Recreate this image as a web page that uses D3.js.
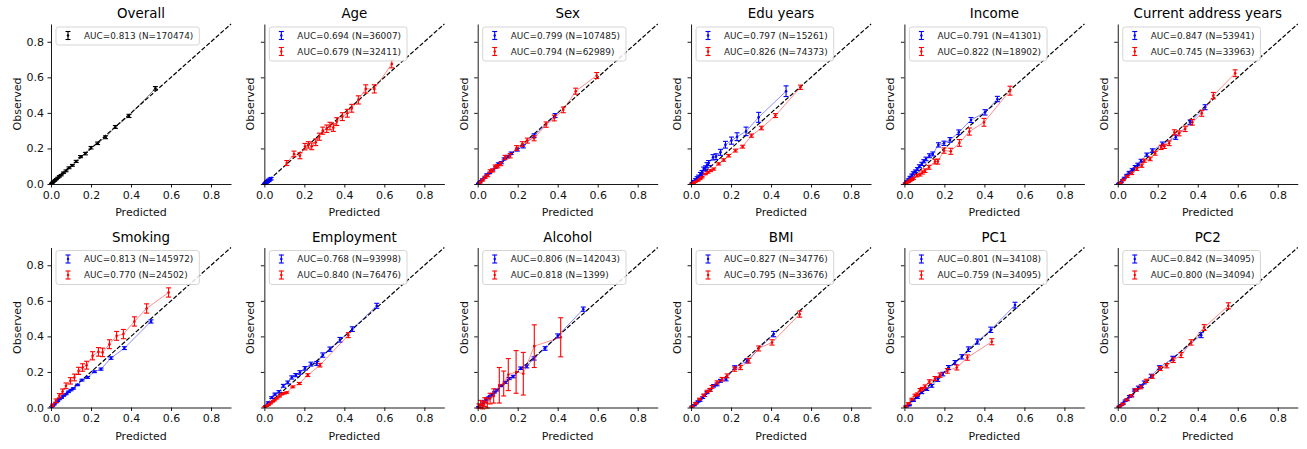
<!DOCTYPE html>
<html><head><meta charset="utf-8">
<script src="https://cdn.jsdelivr.net/npm/d3@7"></script>
<style>
body{margin:0;background:#fff;}
svg{display:block;font-family:"DejaVu Sans",sans-serif;}
</style></head><body>
<svg id="chart" width="1307" height="449"></svg>
<script>
// ---------- data ----------
const titles = ["Overall","Age","Sex","Edu years","Income","Current address years","Smoking","Employment","Alcohol","BMI","PC1","PC2"];
const ticks = [0.0, 0.2, 0.4, 0.6, 0.8];
const tickLabels = ["0.0","0.2","0.4","0.6","0.8"];

const overallX = [0.003,0.007,0.011,0.016,0.021,0.027,0.034,0.042,0.051,0.062,0.075,0.09,0.107,0.126,0.148,0.172,0.2,0.233,0.273,0.322,0.39,0.522];
const overallY = [0.003,0.007,0.012,0.016,0.022,0.028,0.035,0.043,0.05,0.063,0.074,0.091,0.105,0.127,0.154,0.171,0.204,0.229,0.263,0.321,0.383,0.538];
const overallE = [0.001,0.002,0.002,0.002,0.003,0.003,0.003,0.004,0.004,0.004,0.005,0.005,0.005,0.006,0.006,0.007,0.007,0.007,0.008,0.008,0.009,0.01];

const ageBlueX = [0.002,0.004,0.005,0.007,0.009,0.011,0.012,0.014,0.016,0.019,0.021,0.024,0.028,0.034];
const ageBlueY = [0.001,0.003,0.006,0.006,0.008,0.012,0.01,0.015,0.014,0.018,0.022,0.02,0.027,0.03];
const ageBlueE = [0.002,0.002,0.003,0.003,0.003,0.004,0.004,0.004,0.005,0.005,0.005,0.006,0.006,0.007];
const ageRedX = [0.112,0.148,0.178,0.203,0.22,0.237,0.257,0.275,0.292,0.312,0.328,0.345,0.362,0.39,0.415,0.437,0.47,0.507,0.55,0.637];
const ageRedY = [0.118,0.169,0.159,0.21,0.22,0.212,0.235,0.266,0.3,0.311,0.326,0.317,0.351,0.379,0.398,0.426,0.473,0.535,0.535,0.675];
const ageRedE = [0.014,0.016,0.017,0.018,0.018,0.019,0.019,0.02,0.02,0.021,0.021,0.021,0.022,0.022,0.022,0.022,0.023,0.023,0.023,0.022];

const sexBlueX = [0.004,0.01,0.017,0.025,0.035,0.045,0.06,0.075,0.09,0.103,0.118,0.132,0.15,0.167,0.198,0.228,0.282,0.387];
const sexBlueY = [0.004,0.01,0.018,0.027,0.036,0.053,0.062,0.079,0.094,0.113,0.12,0.141,0.154,0.173,0.193,0.212,0.272,0.385];
const sexBlueE = [0.001,0.002,0.002,0.003,0.003,0.004,0.004,0.005,0.005,0.006,0.006,0.006,0.007,0.007,0.008,0.009,0.01,0.011];
const sexRedX = [0.012,0.025,0.037,0.05,0.062,0.075,0.087,0.1,0.115,0.137,0.162,0.195,0.223,0.248,0.282,0.342,0.383,0.428,0.49,0.595];
const sexRedY = [0.009,0.022,0.038,0.048,0.073,0.076,0.098,0.1,0.113,0.15,0.159,0.203,0.225,0.244,0.257,0.334,0.371,0.417,0.522,0.61];
const sexRedE = [0.004,0.005,0.006,0.007,0.007,0.008,0.009,0.009,0.01,0.011,0.012,0.013,0.013,0.014,0.014,0.015,0.016,0.016,0.017,0.017];

const eduBlueX = [0.006,0.013,0.022,0.03,0.038,0.047,0.055,0.063,0.072,0.08,0.088,0.11,0.125,0.147,0.172,0.202,0.23,0.275,0.338,0.475];
const eduBlueY = [0.006,0.015,0.024,0.034,0.042,0.056,0.066,0.084,0.09,0.107,0.118,0.15,0.154,0.178,0.221,0.244,0.266,0.296,0.375,0.522];
const eduBlueE = [0.003,0.005,0.006,0.007,0.008,0.009,0.01,0.011,0.012,0.013,0.014,0.015,0.016,0.017,0.019,0.02,0.022,0.024,0.028,0.03];
const eduRedX = [0.005,0.013,0.022,0.035,0.045,0.055,0.072,0.085,0.097,0.113,0.138,0.163,0.188,0.222,0.258,0.302,0.352,0.422,0.547];
const eduRedY = [0.003,0.006,0.012,0.019,0.028,0.038,0.056,0.066,0.075,0.084,0.113,0.135,0.159,0.188,0.21,0.272,0.315,0.385,0.544];
const eduRedE = [0.001,0.002,0.002,0.003,0.003,0.004,0.004,0.005,0.005,0.006,0.006,0.007,0.007,0.008,0.008,0.009,0.01,0.011,0.012];

const incomeBlueX = [0.005,0.012,0.02,0.028,0.037,0.045,0.055,0.065,0.075,0.087,0.097,0.108,0.125,0.142,0.17,0.198,0.228,0.272,0.333,0.403,0.465];
const incomeBlueY = [0.005,0.015,0.025,0.038,0.05,0.062,0.072,0.084,0.1,0.113,0.128,0.141,0.159,0.169,0.22,0.229,0.248,0.291,0.36,0.403,0.478];
const incomeBlueE = [0.002,0.003,0.004,0.005,0.006,0.007,0.007,0.008,0.008,0.009,0.009,0.01,0.011,0.011,0.012,0.012,0.013,0.013,0.014,0.015,0.015];
const incomeRedX = [0.005,0.012,0.02,0.028,0.037,0.045,0.062,0.078,0.09,0.103,0.123,0.153,0.167,0.198,0.232,0.275,0.325,0.398,0.528];
const incomeRedY = [0.003,0.008,0.012,0.019,0.025,0.032,0.047,0.053,0.065,0.075,0.094,0.126,0.126,0.188,0.184,0.231,0.295,0.347,0.525];
const incomeRedE = [0.002,0.003,0.004,0.005,0.005,0.006,0.007,0.008,0.009,0.01,0.011,0.013,0.014,0.015,0.017,0.019,0.02,0.022,0.025];

const addrBlueX = [0.005,0.011,0.017,0.025,0.033,0.045,0.057,0.072,0.087,0.1,0.117,0.145,0.173,0.223,0.29,0.362,0.437];
const addrBlueY = [0.003,0.006,0.009,0.022,0.034,0.05,0.066,0.08,0.098,0.11,0.131,0.165,0.188,0.225,0.263,0.347,0.432];
const addrBlueE = [0.001,0.002,0.002,0.003,0.004,0.004,0.005,0.006,0.006,0.007,0.008,0.009,0.01,0.011,0.012,0.013,0.014];
const addrRedX = [0.012,0.028,0.048,0.07,0.095,0.12,0.133,0.162,0.187,0.217,0.233,0.257,0.283,0.307,0.337,0.373,0.42,0.478,0.587];
const addrRedY = [0.006,0.023,0.043,0.06,0.084,0.103,0.131,0.141,0.173,0.206,0.212,0.229,0.291,0.285,0.31,0.347,0.398,0.497,0.623];
const addrRedE = [0.003,0.004,0.006,0.007,0.008,0.009,0.009,0.01,0.011,0.012,0.012,0.013,0.014,0.014,0.015,0.016,0.017,0.018,0.019];

const smokeBlueX = [0.004,0.008,0.015,0.025,0.033,0.042,0.052,0.063,0.075,0.087,0.1,0.112,0.133,0.155,0.183,0.217,0.25,0.3,0.367,0.5];
const smokeBlueY = [0.004,0.009,0.016,0.028,0.035,0.047,0.054,0.066,0.075,0.088,0.098,0.107,0.127,0.154,0.169,0.201,0.216,0.278,0.334,0.484];
const smokeBlueE = [0.001,0.001,0.002,0.002,0.002,0.003,0.003,0.003,0.003,0.004,0.004,0.004,0.004,0.005,0.005,0.005,0.006,0.007,0.008,0.009];
const smokeRedX = [0.008,0.025,0.042,0.058,0.075,0.097,0.117,0.138,0.158,0.178,0.208,0.237,0.258,0.292,0.328,0.362,0.417,0.478,0.588];
const smokeRedY = [0.013,0.038,0.066,0.09,0.122,0.15,0.169,0.206,0.225,0.238,0.291,0.313,0.31,0.356,0.403,0.413,0.484,0.557,0.647];
const smokeRedE = [0.006,0.01,0.012,0.014,0.016,0.018,0.019,0.02,0.021,0.022,0.023,0.024,0.024,0.025,0.025,0.026,0.026,0.026,0.026];

const employBlueX = [0.007,0.02,0.037,0.053,0.073,0.095,0.117,0.137,0.157,0.178,0.203,0.233,0.262,0.292,0.328,0.378,0.44,0.562];
const employBlueY = [0.009,0.028,0.056,0.075,0.088,0.122,0.141,0.169,0.182,0.197,0.22,0.244,0.248,0.295,0.328,0.381,0.441,0.572];
const employBlueE = [0.002,0.004,0.005,0.006,0.007,0.008,0.008,0.009,0.009,0.01,0.01,0.011,0.011,0.012,0.012,0.013,0.013,0.014];
const employRedX = [0.003,0.01,0.02,0.03,0.04,0.05,0.062,0.075,0.087,0.1,0.112,0.142,0.175,0.217,0.278,0.42];
const employRedY = [0.004,0.008,0.013,0.022,0.032,0.04,0.051,0.062,0.075,0.08,0.084,0.116,0.135,0.182,0.238,0.407];
const employRedE = [0.001,0.001,0.002,0.002,0.002,0.003,0.003,0.003,0.004,0.004,0.004,0.005,0.006,0.008,0.01,0.014];

const alcoholBlueX = [0.005,0.015,0.025,0.033,0.043,0.053,0.063,0.073,0.085,0.095,0.115,0.137,0.157,0.178,0.215,0.245,0.282,0.337,0.4,0.528];
const alcoholBlueY = [0.004,0.013,0.022,0.034,0.045,0.056,0.064,0.075,0.086,0.098,0.122,0.141,0.163,0.174,0.221,0.231,0.276,0.332,0.403,0.553];
const alcoholBlueE = [0.001,0.002,0.002,0.003,0.003,0.003,0.004,0.004,0.004,0.005,0.005,0.006,0.006,0.007,0.007,0.008,0.009,0.01,0.011,0.012];
const alcoholRedX = [0.006,0.015,0.025,0.035,0.048,0.062,0.08,0.108,0.13,0.153,0.192,0.228,0.283,0.415];
const alcoholRedY = [0.008,0.02,0.012,0.03,0.025,0.05,0.065,0.125,0.135,0.185,0.2,0.19,0.345,0.395];
const alcoholRedE = [0.012,0.02,0.02,0.025,0.028,0.03,0.04,0.1,0.07,0.09,0.12,0.12,0.12,0.11];

const bmiBlueX = [0.005,0.017,0.027,0.035,0.045,0.058,0.068,0.08,0.095,0.113,0.13,0.147,0.175,0.218,0.28,0.413];
const bmiBlueY = [0.005,0.013,0.025,0.034,0.04,0.056,0.068,0.084,0.097,0.122,0.13,0.15,0.159,0.225,0.263,0.413];
const bmiBlueE = [0.002,0.003,0.004,0.004,0.005,0.005,0.006,0.006,0.007,0.007,0.008,0.008,0.009,0.01,0.012,0.015];
const bmiRedX = [0.005,0.022,0.042,0.063,0.08,0.095,0.105,0.13,0.155,0.18,0.218,0.247,0.288,0.338,0.405,0.543];
const bmiRedY = [0.006,0.023,0.047,0.069,0.09,0.099,0.116,0.141,0.159,0.178,0.216,0.225,0.263,0.332,0.366,0.525];
const bmiRedE = [0.002,0.004,0.005,0.006,0.007,0.008,0.008,0.009,0.01,0.011,0.012,0.012,0.013,0.014,0.015,0.017];

const pc1BlueX = [0.01,0.025,0.045,0.065,0.087,0.112,0.137,0.167,0.192,0.22,0.253,0.287,0.32,0.365,0.432,0.553];
const pc1BlueY = [0.006,0.013,0.038,0.056,0.084,0.103,0.122,0.156,0.188,0.225,0.253,0.285,0.328,0.371,0.437,0.576];
const pc1BlueE = [0.002,0.003,0.004,0.005,0.006,0.007,0.008,0.009,0.01,0.011,0.011,0.012,0.013,0.014,0.015,0.016];
const pc1RedX = [0.007,0.02,0.037,0.053,0.065,0.078,0.09,0.103,0.125,0.153,0.178,0.215,0.262,0.315,0.437];
const pc1RedY = [0.006,0.023,0.047,0.069,0.075,0.099,0.105,0.118,0.146,0.163,0.182,0.206,0.225,0.281,0.37];
const pc1RedE = [0.003,0.004,0.005,0.006,0.007,0.008,0.008,0.009,0.01,0.011,0.012,0.013,0.014,0.015,0.017];

const pc2BlueX = [0.006,0.017,0.027,0.037,0.047,0.058,0.07,0.083,0.093,0.103,0.118,0.133,0.167,0.208,0.275,0.417];
const pc2BlueY = [0.004,0.013,0.022,0.038,0.044,0.062,0.066,0.098,0.1,0.113,0.12,0.141,0.178,0.225,0.276,0.407];
const pc2BlueE = [0.002,0.003,0.004,0.004,0.005,0.005,0.006,0.006,0.007,0.007,0.008,0.008,0.009,0.01,0.012,0.014];
const pc2RedX = [0.008,0.025,0.045,0.067,0.09,0.115,0.142,0.173,0.212,0.245,0.278,0.317,0.367,0.432,0.553];
const pc2RedY = [0.006,0.019,0.043,0.066,0.099,0.113,0.15,0.174,0.219,0.235,0.266,0.295,0.366,0.45,0.572];
const pc2RedE = [0.003,0.004,0.005,0.006,0.007,0.008,0.009,0.01,0.011,0.012,0.013,0.014,0.015,0.016,0.017];

const legendLabels = [
  ["AUC=0.813 (N=170474)"],
  ["AUC=0.694 (N=36007)","AUC=0.679 (N=32411)"],
  ["AUC=0.799 (N=107485)","AUC=0.794 (N=62989)"],
  ["AUC=0.797 (N=15261)","AUC=0.826 (N=74373)"],
  ["AUC=0.791 (N=41301)","AUC=0.822 (N=18902)"],
  ["AUC=0.847 (N=53941)","AUC=0.745 (N=33963)"],
  ["AUC=0.813 (N=145972)","AUC=0.770 (N=24502)"],
  ["AUC=0.768 (N=93998)","AUC=0.840 (N=76476)"],
  ["AUC=0.806 (N=142043)","AUC=0.818 (N=1399)"],
  ["AUC=0.827 (N=34776)","AUC=0.795 (N=33676)"],
  ["AUC=0.801 (N=34108)","AUC=0.759 (N=34095)"],
  ["AUC=0.842 (N=34095)","AUC=0.800 (N=34094)"]
];

// ---------- assemble ----------
function ser(xs, ys, es, color){ return {color, pts: xs.map((x,i)=>({x, y: ys[i], e: es[i]}))}; }
const panels = [
  [ser(overallX, overallY, overallE, "#000000")],
  [ser(ageBlueX, ageBlueY, ageBlueE, "blue"), ser(ageRedX, ageRedY, ageRedE, "red")],
  [ser(sexBlueX, sexBlueY, sexBlueE, "blue"), ser(sexRedX, sexRedY, sexRedE, "red")],
  [ser(eduBlueX, eduBlueY, eduBlueE, "blue"), ser(eduRedX, eduRedY, eduRedE, "red")],
  [ser(incomeBlueX, incomeBlueY, incomeBlueE, "blue"), ser(incomeRedX, incomeRedY, incomeRedE, "red")],
  [ser(addrBlueX, addrBlueY, addrBlueE, "blue"), ser(addrRedX, addrRedY, addrRedE, "red")],
  [ser(smokeBlueX, smokeBlueY, smokeBlueE, "blue"), ser(smokeRedX, smokeRedY, smokeRedE, "red")],
  [ser(employBlueX, employBlueY, employBlueE, "blue"), ser(employRedX, employRedY, employRedE, "red")],
  [ser(alcoholBlueX, alcoholBlueY, alcoholBlueE, "blue"), ser(alcoholRedX, alcoholRedY, alcoholRedE, "red")],
  [ser(bmiBlueX, bmiBlueY, bmiBlueE, "blue"), ser(bmiRedX, bmiRedY, bmiRedE, "red")],
  [ser(pc1BlueX, pc1BlueY, pc1BlueE, "blue"), ser(pc1RedX, pc1RedY, pc1RedE, "red")],
  [ser(pc2BlueX, pc2BlueY, pc2BlueE, "blue"), ser(pc2RedX, pc2RedY, pc2RedE, "red")]
];

// ---------- layout ----------
const svg = d3.select("#chart");
const W = 180, H = 160, colStep = 213.35, left0 = 51, tops = [24, 247.5];
const x = d3.scaleLinear().domain([0, 0.9]).range([0, W]);
const y = d3.scaleLinear().domain([0, 0.9]).range([H, 0]);
const fmt = (d) => tickLabels[ticks.indexOf(d)];

panels.forEach((series, idx) => {
  const r = Math.floor(idx / 6), c = idx % 6;
  const g = svg.append("g").attr("transform", `translate(${left0 + c*colStep},${tops[r]})`);

  // diagonal
  g.append("line").attr("x1", x(0)).attr("y1", y(0)).attr("x2", x(0.9)).attr("y2", y(0.9))
    .attr("stroke", "#000").attr("stroke-width", 1.2).attr("stroke-dasharray", "4.4,1.9");

  series.forEach(s => {
    const sg = g.append("g");
    sg.append("path").datum(s.pts)
      .attr("d", d3.line().x(d => x(d.x)).y(d => y(d.y)))
      .attr("fill", "none").attr("stroke", s.color).attr("stroke-width", 0.9).attr("stroke-opacity", 0.5);
    const eb = sg.selectAll("g.eb").data(s.pts).join("g").attr("class", "eb");
    eb.append("line").attr("x1", d => x(d.x)).attr("x2", d => x(d.x))
      .attr("y1", d => y(d.y - d.e)).attr("y2", d => y(d.y + d.e))
      .attr("stroke", s.color).attr("stroke-width", 1.1);
    [-1, 1].forEach(k => {
      eb.append("line").attr("x1", d => x(d.x) - 2.5).attr("x2", d => x(d.x) + 2.5)
        .attr("y1", d => y(d.y + k*d.e)).attr("y2", d => y(d.y + k*d.e))
        .attr("stroke", s.color).attr("stroke-width", 1.1);
    });
    eb.append("circle").attr("cx", d => x(d.x)).attr("cy", d => y(d.y)).attr("r", 1.3).attr("fill", s.color);
  });

  // axes
  const xa = g.append("g").attr("transform", `translate(0,${H})`)
    .call(d3.axisBottom(x).tickValues(ticks).tickFormat(fmt).tickSize(3.5).tickPadding(3.5).tickSizeOuter(0));
  const ya = g.append("g")
    .call(d3.axisLeft(y).tickValues(ticks).tickFormat(c === 0 ? fmt : () => "").tickSize(3.5).tickPadding(3.5).tickSizeOuter(0));
  [xa, ya].forEach(a => {
    a.select(".domain").attr("stroke", "#000").attr("stroke-width", 0.9);
    a.selectAll(".tick line").attr("stroke", "#000").attr("stroke-width", 0.9);
    a.selectAll(".tick text").attr("font-size", 11).attr("fill", "#111").attr("font-family", "DejaVu Sans");
  });

  // labels
  g.append("text").attr("x", W/2).attr("y", H + 32).attr("text-anchor", "middle")
    .attr("font-size", 11).attr("fill", "#111").text("Predicted");
  g.append("text").attr("transform", `translate(${c === 0 ? -34 : -14},${H/2}) rotate(-90)`)
    .attr("text-anchor", "middle").attr("dy", "0.35em").attr("font-size", 11).attr("fill", "#111").text("Observed");
  g.append("text").attr("x", W/2).attr("y", -6).attr("text-anchor", "middle")
    .attr("font-size", 13.4).attr("fill", "#000").text(titles[idx]);

  // legend
  const labels = legendLabels[idx];
  const lg = g.append("g");
  const box = lg.append("rect").attr("x", 5).attr("y", 3).attr("rx", 2.5).attr("ry", 2.5)
    .attr("height", 16*labels.length + 2).attr("fill", "#fff").attr("fill-opacity", 0.85)
    .attr("stroke", "#d0d0d0").attr("stroke-width", 0.9);
  let maxW = 0;
  labels.forEach((t, i) => {
    const cy = 11.5 + i*16;
    const col = series[i].color;
    lg.append("line").attr("x1", 17).attr("x2", 17).attr("y1", cy - 4).attr("y2", cy + 4).attr("stroke", col).attr("stroke-width", 1.1);
    [-4, 4].forEach(o => lg.append("line").attr("x1", 14.5).attr("x2", 19.5).attr("y1", cy + o).attr("y2", cy + o).attr("stroke", col).attr("stroke-width", 1.1));
    lg.append("circle").attr("cx", 17).attr("cy", cy).attr("r", 1.2).attr("fill", col);
    const tx = lg.append("text").attr("x", 33).attr("y", cy).attr("dy", "0.35em")
      .attr("font-size", 8.9).attr("fill", "#222").text(t);
    maxW = Math.max(maxW, tx.node().getComputedTextLength());
  });
  box.attr("width", 33 + maxW + 6 - 5);
});
</script>
</body></html>
